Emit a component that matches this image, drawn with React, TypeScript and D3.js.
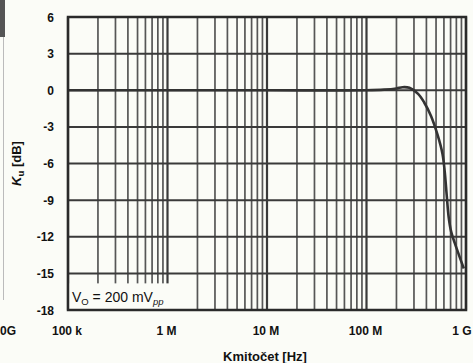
import React from "react";
import * as d3 from "d3";

const W = 473;
const H = 363;

// Frequency response data (Hz, dB)
const freqs = [1e5, 1e6, 1e7, 1e8, 1.5e8, 2e8, 2.3e8, 2.7e8, 3.3e8, 3.8e8, 4.45e8, 5.2e8, 5.8e8, 6.1e8, 6.4e8, 6.7e8, 7.1e8, 7.7e8, 8.5e8, 9.5e8];
const gains = [0, 0, 0, 0, 0.05, 0.15, 0.25, 0.2, -0.3, -1.0, -2.1, -3.7, -5.2, -6.6, -8.6, -10.4, -11.6, -12.5, -13.5, -14.6];

const yTicks = [6, 3, 0, -3, -6, -9, -12, -15, -18];
const xTickValues = [1e5, 1e6, 1e7, 1e8, 1e9];
const xTickLabels = ["100 k", "1 M", "10 M", "100 M", "1 G"];

const M = { left: 68, right: 466, top: 17, bottom: 310 };

export default function App() {
  const x = d3.scaleLog().domain([1e5, 1e9]).range([M.left, M.right]);
  const y = d3.scaleLinear().domain([-18, 6]).range([M.bottom, M.top]);

  const minors: number[] = [];
  for (let d = 1e5; d < 1e9; d *= 10) {
    for (let k = 2; k <= 9; k++) minors.push(d * k);
  }

  const pts = freqs.map((f, i) => [f, gains[i]] as [number, number]);
  const line = d3
    .line<[number, number]>()
    .x((d) => x(d[0]))
    .y((d) => y(d[1]))
    .curve(d3.curveCatmullRom.alpha(0.5));

  const font = "'Liberation Sans', Arial, Helvetica, sans-serif";
  const grid = "#3a3a3a";

  return (
    <svg
      width={W}
      height={H}
      style={{ position: "absolute", left: 0, top: 0, background: "#fbfcf7" }}
      fontFamily={font}
    >
      <rect x={0} y={0} width={W} height={H} fill="#fbfcf7" />
      {/* remnant of neighbouring chart */}
      <rect x={0} y={0} width={5} height={37} fill="#555" />
      <line x1={3.5} x2={3.5} y1={37} y2={300} stroke="#bbb" strokeWidth={1} />
      <text x={0} y={335} fontSize={12} fontWeight="bold" fill="#111">0G</text>

      {/* minor vertical gridlines */}
      {minors.map((f, i) => (
        <line key={"m" + i} x1={x(f)} x2={x(f)} y1={M.top} y2={M.bottom} stroke={grid} strokeWidth={1.7} opacity={0.85} />
      ))}
      {/* decade gridlines */}
      {xTickValues.map((f, i) => (
        <line key={"d" + i} x1={x(f)} x2={x(f)} y1={M.top} y2={M.bottom} stroke={grid} strokeWidth={2.2} />
      ))}
      {/* horizontal gridlines */}
      {yTicks.map((v, i) => (
        <line key={"h" + i} x1={M.left} x2={M.right} y1={y(v)} y2={y(v)} stroke={grid} strokeWidth={2} />
      ))}

      {/* annotation box */}
      <rect x={M.left + 1} y={y(-15) + 10} width={124} height={M.bottom - y(-15) - 11} fill="#fbfcf7" />
      <text x={72} y={302} fontSize={14} fill="#111">
        V<tspan fontSize={9.5} dy={3}>O</tspan>
        <tspan dy={-3}> = 200 mV</tspan>
        <tspan fontSize={9.5} dy={3} fontStyle="italic">pp</tspan>
      </text>

      {/* curve */}
      <path d={line(pts) || ""} fill="none" stroke="#333" strokeWidth={2.6} strokeLinejoin="round" />

      {/* frame */}
      <rect x={M.left} y={M.top} width={M.right - M.left} height={M.bottom - M.top} fill="none" stroke="#2a2a2a" strokeWidth={2.5} />

      {/* y tick labels */}
      {yTicks.map((v, i) => (
        <text key={"yl" + i} x={54} y={y(v) + 4.5} textAnchor="end" fontSize={12} fontWeight="bold" fill="#111">
          {v < 0 ? "-" + Math.abs(v) : String(v)}
        </text>
      ))}
      {/* x tick labels */}
      {xTickValues.map((f, i) => (
        <text key={"xl" + i} x={x(f) - (i === 4 ? 4 : 1)} y={335} textAnchor="middle" fontSize={12} fontWeight="bold" fill="#111">
          {xTickLabels[i]}
        </text>
      ))}

      {/* axis titles */}
      <text x={265} y={361} textAnchor="middle" fontSize={13} fontWeight="bold" fill="#111">
        Kmitočet [Hz]
      </text>
      <text transform={`translate(21,${(M.top + M.bottom) / 2}) rotate(-90)`} textAnchor="middle" fontSize={13} fontWeight="bold" fill="#111">
        <tspan fontStyle="italic">K</tspan>
        <tspan fontSize={9.5} dy={3}>u</tspan>
        <tspan dy={-3}> [dB]</tspan>
      </text>
    </svg>
  );
}
